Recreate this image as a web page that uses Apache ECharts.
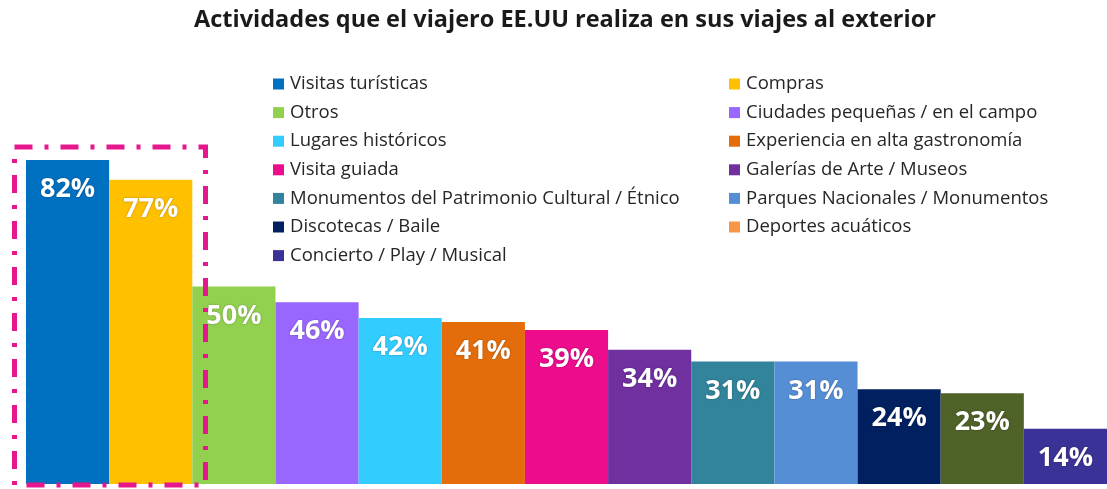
<!DOCTYPE html>
<html>
<head>
<meta charset="utf-8">
<script src="https://cdn.jsdelivr.net/npm/echarts@6/dist/echarts.min.js"></script>
<style>
  html, body { margin: 0; padding: 0; background: #fff; }
  #chart { width: 1107px; height: 489px; }
</style>
</head>
<body>
<div id="chart"></div>
<script>
// actividades (orden de las barras)
const activities = [
  "Visitas turísticas",
  "Compras",
  "Otros",
  "Ciudades pequeñas / en el campo",
  "Lugares históricos",
  "Experiencia en alta gastronomía",
  "Visita guiada",
  "Galerías de Arte / Museos",
  "Monumentos del Patrimonio Cultural / Étnico",
  "Parques Nacionales / Monumentos",
  "Discotecas / Baile",
  "Deportes acuáticos",
  "Concierto / Play / Musical"
];
const percents = [82, 77, 50, 46, 42, 41, 39, 34, 31, 31, 24, 23, 14];
const barColors = [
  "#0070C0", "#FFC000", "#92D050", "#9966FF", "#33CCFF", "#E46C0A", "#EC0C8C",
  "#7030A0", "#31849B", "#558ED5", "#002060", "#4F6228", "#3A3296"
];
const leftLegend = [0, 2, 4, 6, 8, 10, 12];
const rightLegend = [1, 3, 5, 7, 9, 11];
// el recuadro de la leyenda de "Deportes acuáticos" sale naranja en el original
const legendIconColor = { 11: "#F79646" };

const series = activities.map((name, i) => ({
  name: name,
  type: "bar",
  data: [percents[i]],
  barGap: "0%",
  barCategoryGap: "0%",
  itemStyle: { color: barColors[i] },
  label: {
    show: true,
    position: "insideTop",
    distance: 16,
    formatter: "{c}%",
    color: "#fff",
    fontFamily: "Open Sans",
    fontWeight: "bold",
    fontSize: 27,
    textShadowColor: "rgba(0,0,0,0.35)",
    textShadowBlur: 2
  }
}));

function legendData(idx) {
  return idx.map(i => legendIconColor[i]
    ? { name: activities[i], itemStyle: { color: legendIconColor[i] } }
    : { name: activities[i] });
}

const legendBase = {
  orient: "vertical",
  top: 69,
  icon: "rect",
  itemWidth: 11,
  itemHeight: 11,
  itemGap: 8.6,
  selectedMode: false,
  textStyle: {
    fontFamily: "Open Sans",
    fontSize: 18.5,
    color: "#262626",
    lineHeight: 20,
    padding: [0, 0, 0, 1]
  }
};

const option = {
  animation: false,
  title: {
    text: "Actividades que el viajero EE.UU realiza en sus viajes al exterior",
    left: 189,
    top: 3,
    textStyle: {
      fontFamily: "Open Sans",
      fontWeight: "bold",
      fontSize: 23.5,
      color: "#1a1a1a"
    }
  },
  legend: [
    Object.assign({}, legendBase, { left: 268, data: legendData(leftLegend) }),
    Object.assign({}, legendBase, { left: 724, data: legendData(rightLegend) })
  ],
  grid: { left: 26, right: 0, top: 89, bottom: 5 },
  xAxis: { type: "category", data: [""], show: false },
  yAxis: { type: "value", min: 0, max: 100, show: false },
  series: series,
  graphic: [{
    type: "rect",
    z: 100,
    shape: { x: 14.5, y: 147, width: 191, height: 338 },
    style: {
      fill: null,
      stroke: "#E6168C",
      lineWidth: 5,
      lineDash: [18, 12, 4, 12]
    }
  }]
};

const myChart = echarts.init(document.getElementById("chart"));
myChart.setOption(option);
</script>
</body>
</html>
